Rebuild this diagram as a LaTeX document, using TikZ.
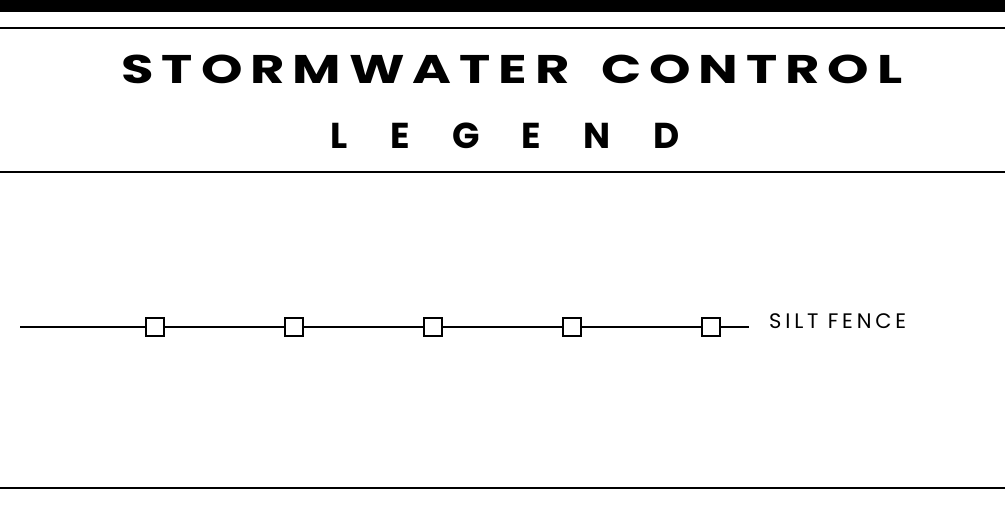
\documentclass[tikz,border=0pt]{standalone}
\usepackage{fontspec}
\newfontfamily\titlefont[LetterSpace=15]{Poppins}
\newfontfamily\legfont[LetterSpace=118]{Poppins}
\newfontfamily\labfont[LetterSpace=18]{Poppins}
\tikzset{
  rule/.style={line width=2.2pt, black},
  fence/.style={line width=1.4pt, black},
  post/.style={draw=black, line width=1.3pt, fill=white, minimum width=18pt, minimum height=18pt, inner sep=0pt, outer sep=0pt},
}
\begin{document}
\begin{tikzpicture}[x=1pt,y=-1pt]
\useasboundingbox (0,0) rectangle (1005,506);
\fill[black] (0,0) rectangle (1005,12);
\draw[rule] (0,28) -- (1005,28);
\draw[rule] (0,172) -- (1005,172);
\draw[rule] (0,488) -- (1005,488);
\node[font=\titlefont\bfseries\fontsize{40}{40}\selectfont, inner sep=0pt, xscale=1.32, transform shape] (t1) at (512,69) {STORMWATER\hspace{24pt}CONTROL};
\node[font=\legfont\bfseries\fontsize{36}{36}\selectfont, inner sep=0pt] (t2) at (505,136) {LEGEND};
\coordinate (s) at (20,327);
\node[post] (p1) at (155,327) {};
\node[post] (p2) at (294,327) {};
\node[post] (p3) at (433,327) {};
\node[post] (p4) at (572,327) {};
\node[post] (p5) at (711,327) {};
\coordinate (e) at (749,327);
\draw[fence] (s) -- (p1) (p1) -- (p2) (p2) -- (p3) (p3) -- (p4) (p4) -- (p5) (p5) -- (e);
\node[font=\labfont\fontsize{21}{21}\selectfont, anchor=west, inner sep=0pt] (lab) at (769,321) {SILT FENCE};
\end{tikzpicture}
\end{document}
